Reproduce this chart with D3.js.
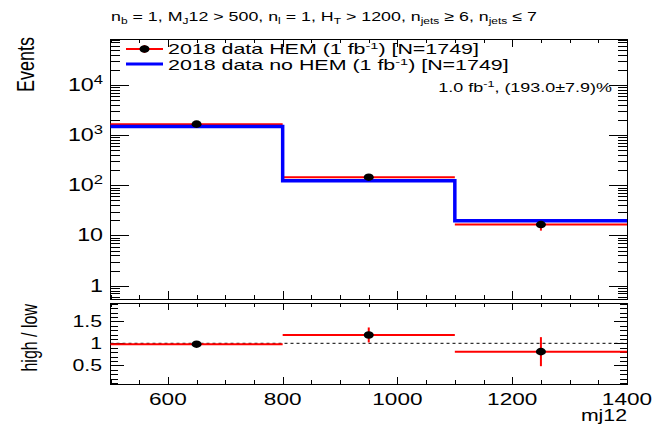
<!DOCTYPE html>
<html>
<head>
<meta charset="utf-8">
<script src="https://cdn.jsdelivr.net/npm/d3@7"></script>
<style>
  body { margin: 0; background: #fff; }
  text { font-family: "Liberation Sans", Arial, Helvetica, sans-serif; fill: #000; }
</style>
</head>
<body>
<div class="chart"></div>
<script>
// bins of mj12 and the two samples
var binEdges = [500, 800, 1100, 1400];
var binCenters = [650, 950, 1250];
var hemEvents = [1650, 145, 16.5];
var hemErrors = [40, 12, 4];
var noHemEvents = [1480, 123, 19.7];

// ratio panel (high / low)
var ratioValues = [0.98, 1.19, 0.81];
var ratioErrors = [0.03, 0.17, 0.33];

// tick labels
var xTicks = [600, 800, 1000, 1200, 1400];
var yTicks = [1, 10, 100, 1000, 10000];
var yTickLabels = [["1", ""], ["10", ""], ["10", "2"], ["10", "3"], ["10", "4"]];
var ratioTicks = [0.5, 1, 1.5];
var ratioTickLabels = ["0.5", "1", "1.5"];

var width = 654, height = 426;
var SX = 1.33; // the picture is stretched sideways, text too

var svg = d3.select(".chart").append("svg")
    .attr("width", width)
    .attr("height", height);

// panel boxes
var left = 110.5, right = 627;
var mainTop = 39, mainBottom = 299;
var ratTop = 303, ratBottom = 384;

var x = d3.scaleLinear().domain([500, 1400]).range([left, right]);
var y = d3.scaleLog().domain([0.543, 82000]).range([mainBottom, mainTop]);
var yr = d3.scaleLinear().domain([0.075, 1.916]).range([ratBottom, ratTop]);

//helper for stretched text
function addText(x0, y0, size, anchor, rotate, sx) {
    return svg.append("text")
        .attr("transform", "translate(" + x0 + "," + y0 + ") scale(" + (sx || SX) + ",1)" + (rotate ? " rotate(-90)" : ""))
        .attr("font-size", size)
        .attr("text-anchor", anchor);
}

//ticks only, no labels, no domain
function ticks(g, axis, values, size) {
    g.call(axis.tickValues(values).tickSize(size).tickFormat(""));
    g.select(".domain").remove();
    g.selectAll("line").attr("stroke", "#000").attr("shape-rendering", "crispEdges");
}

var xMinor = d3.range(500, 1401, 50).filter(function (v) { return xTicks.indexOf(v) < 0; });
var yMinor = [];
[-1, 0, 1, 2, 3, 4].forEach(function (d) {
    for (var k = 2; k <= 9; k++) {
        var v = k * Math.pow(10, d);
        if (v > y.domain()[0] && v < y.domain()[1]) yMinor.push(v);
    }
});
var rMinor = d3.range(1, 20).map(function (i) { return i / 10; })
    .filter(function (v) { return ratioTicks.indexOf(v) < 0 && v > yr.domain()[0] && v < yr.domain()[1]; });

// main panel ticks
ticks(svg.append("g").attr("transform", "translate(" + left + ",0)"), d3.axisLeft(y), yTicks, -18);
ticks(svg.append("g").attr("transform", "translate(" + left + ",0)"), d3.axisLeft(y), yMinor, -9);
ticks(svg.append("g").attr("transform", "translate(" + right + ",0)"), d3.axisRight(y), yTicks, -18);
ticks(svg.append("g").attr("transform", "translate(" + right + ",0)"), d3.axisRight(y), yMinor, -9);
ticks(svg.append("g").attr("transform", "translate(0," + mainBottom + ")"), d3.axisBottom(x), xTicks, -8);
ticks(svg.append("g").attr("transform", "translate(0," + mainBottom + ")"), d3.axisBottom(x), xMinor, -4);
ticks(svg.append("g").attr("transform", "translate(0," + mainTop + ")"), d3.axisTop(x), xTicks, -8);
ticks(svg.append("g").attr("transform", "translate(0," + mainTop + ")"), d3.axisTop(x), xMinor, -4);

// ratio panel ticks
ticks(svg.append("g").attr("transform", "translate(" + left + ",0)"), d3.axisLeft(yr), ratioTicks, -13);
ticks(svg.append("g").attr("transform", "translate(" + left + ",0)"), d3.axisLeft(yr), rMinor, -7);
ticks(svg.append("g").attr("transform", "translate(" + right + ",0)"), d3.axisRight(yr), ratioTicks, -13);
ticks(svg.append("g").attr("transform", "translate(" + right + ",0)"), d3.axisRight(yr), rMinor, -7);
ticks(svg.append("g").attr("transform", "translate(0," + ratBottom + ")"), d3.axisBottom(x), xTicks, -7);
ticks(svg.append("g").attr("transform", "translate(0," + ratBottom + ")"), d3.axisBottom(x), xMinor, -4);
ticks(svg.append("g").attr("transform", "translate(0," + ratTop + ")"), d3.axisTop(x), xTicks, -7);
ticks(svg.append("g").attr("transform", "translate(0," + ratTop + ")"), d3.axisTop(x), xMinor, -4);

// frames
[[mainTop, mainBottom], [ratTop, ratBottom]].forEach(function (p) {
    svg.append("rect")
        .attr("x", left).attr("y", p[0])
        .attr("width", right - left).attr("height", p[1] - p[0])
        .attr("fill", "none").attr("stroke", "#000").attr("stroke-width", 1)
        .attr("shape-rendering", "crispEdges");
});

// red data: horizontal bin-width bars and vertical errors
binCenters.forEach(function (c, i) {
    svg.append("line")
        .attr("x1", x(binEdges[i])).attr("x2", x(binEdges[i + 1]))
        .attr("y1", y(hemEvents[i])).attr("y2", y(hemEvents[i]))
        .attr("stroke", "#ff0000").attr("stroke-width", 2);
    svg.append("line")
        .attr("x1", x(c)).attr("x2", x(c))
        .attr("y1", y(hemEvents[i] + hemErrors[i])).attr("y2", y(hemEvents[i] - hemErrors[i]))
        .attr("stroke", "#ff0000").attr("stroke-width", 2);
});

// blue step histogram
var stepPts = [];
noHemEvents.forEach(function (v, i) {
    stepPts.push([x(binEdges[i]), y(v)]);
    stepPts.push([x(binEdges[i + 1]), y(v)]);
});
svg.append("path")
    .attr("d", d3.line()(stepPts))
    .attr("fill", "none").attr("stroke", "#0000ff").attr("stroke-width", 3.5);

// black points on top
svg.selectAll(".dot")
    .data(binCenters)
    .enter().append("ellipse")
    .attr("class", "dot")
    .attr("cx", function (d) { return x(d); })
    .attr("cy", function (d, i) { return y(hemEvents[i]); })
    .attr("rx", 5).attr("ry", 3.8)
    .attr("fill", "#000");

// ratio panel
svg.append("line")
    .attr("x1", left).attr("x2", right)
    .attr("y1", yr(1)).attr("y2", yr(1))
    .attr("stroke", "#000").attr("stroke-width", 1).attr("stroke-dasharray", "3,3");

binCenters.forEach(function (c, i) {
    svg.append("line")
        .attr("x1", x(binEdges[i])).attr("x2", x(binEdges[i + 1]))
        .attr("y1", yr(ratioValues[i])).attr("y2", yr(ratioValues[i]))
        .attr("stroke", "#ff0000").attr("stroke-width", 2);
    svg.append("line")
        .attr("x1", x(c)).attr("x2", x(c))
        .attr("y1", yr(ratioValues[i] + ratioErrors[i])).attr("y2", yr(ratioValues[i] - ratioErrors[i]))
        .attr("stroke", "#ff0000").attr("stroke-width", 2);
    svg.append("ellipse")
        .attr("cx", x(c)).attr("cy", yr(ratioValues[i]))
        .attr("rx", 5).attr("ry", 3.8)
        .attr("fill", "#000");
});

// tick labels
xTicks.forEach(function (v) {
    addText(x(v), 405, 17, "middle").text(v);
});
yTicks.forEach(function (v, i) {
    var t = addText(103, y(v) + 6, 17.5, "end");
    t.append("tspan").text(yTickLabels[i][0]);
    if (yTickLabels[i][1]) {
        t.append("tspan").attr("dy", -7).attr("font-size", 12.5).text(yTickLabels[i][1]);
    }
});
ratioTicks.forEach(function (v, i) {
    addText(102, yr(v) + 6, 16, "end").text(ratioTickLabels[i]);
});

// axis titles
addText(34, 37, 18, "end", true).text("Events");
addText(37, 304, 16, "end", true).text("high / low");
addText(627, 421, 16, "end").text("mj12");

// title with subscripts
var title = addText(111, 21, 13.4, "start");
function sub(s) { title.append("tspan").attr("dy", 3).attr("font-size", 9).text(s); }
function main(s) { title.append("tspan").attr("dy", -3).attr("font-size", 13.4).text(s); }
title.append("tspan").text("n");
sub("b"); main(" = 1,  M"); sub("J"); main("12 > 500, n"); sub("l");
main(" = 1, H"); sub("T"); main(" > 1200, n"); sub("jets"); main(" \u2265 6, n"); sub("jets"); main(" \u2264 7");

// legend
svg.append("line").attr("x1", 126).attr("x2", 163).attr("y1", 49).attr("y2", 49)
    .attr("stroke", "#ff0000").attr("stroke-width", 2);
svg.append("line").attr("x1", 144.5).attr("x2", 144.5).attr("y1", 45).attr("y2", 53)
    .attr("stroke", "#ff0000").attr("stroke-width", 2);
svg.append("ellipse").attr("cx", 144.5).attr("cy", 49).attr("rx", 5).attr("ry", 3.8).attr("fill", "#000");
svg.append("line").attr("x1", 126).attr("x2", 163).attr("y1", 64).attr("y2", 64)
    .attr("stroke", "#0000ff").attr("stroke-width", 3);

var leg1 = addText(168, 54, 14, "start", false, 1.53);
leg1.append("tspan").text("2018 data HEM (1 fb");
leg1.append("tspan").attr("dy", -5).attr("font-size", 9.5).text("-1");
leg1.append("tspan").attr("dy", 5).text(") [N=1749]");
var leg2 = addText(168, 70, 14, "start", false, 1.53);
leg2.append("tspan").text("2018 data no HEM (1 fb");
leg2.append("tspan").attr("dy", -5).attr("font-size", 9.5).text("-1");
leg2.append("tspan").attr("dy", 5).text(") [N=1749]");

var lumi = addText(612, 92, 13.5, "end");
lumi.append("tspan").text("1.0 fb");
lumi.append("tspan").attr("dy", -5).attr("font-size", 9.5).text("-1");
lumi.append("tspan").attr("dy", 5).text(", (193.0\u00b17.9)%");
</script>
</body>
</html>
